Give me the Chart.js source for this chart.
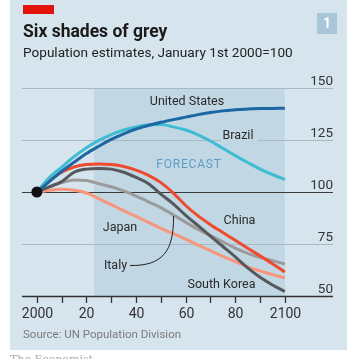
<!DOCTYPE html>
<html>
<head>
<meta charset="utf-8">
<script src="https://cdn.jsdelivr.net/npm/chart.js@4.4.1/dist/chart.umd.min.js"></script>
<style>
  body { margin: 0; background: #fff; }
  canvas { display: block; }
</style>
</head>
<body>
<canvas id="popChart" width="352" height="359"></canvas>
<script>
var years = [2000, 2005, 2010, 2015, 2020, 2025, 2030, 2035, 2040, 2045, 2050,
             2055, 2060, 2065, 2070, 2075, 2080, 2085, 2090, 2095, 2100];
var unitedStates = [100, 105, 110, 114.3, 118.5, 122, 125.3, 128, 130.3, 132, 133.5,
                    134.8, 136, 137.2, 138.2, 139, 139.5, 139.9, 140.1, 140.2, 140.3];
var brazil = [100, 107, 112, 117, 121.3, 124.8, 127.6, 129.8, 131.3, 132.3, 132.4,
              131.3, 129.8, 127.5, 124.5, 121, 117.5, 114.2, 111, 108.3, 106];
var china = [100, 105.5, 109.5, 112, 113.2, 113.5, 113.2, 112.3, 110.5, 108, 104.5,
             99.5, 93.5, 88.5, 84.3, 80.5, 76.8, 73, 69.3, 65.5, 61.5];
var southKorea = [100, 102.5, 105, 109.5, 111, 111.3, 111, 109.5, 107, 104, 99,
                  94.3, 88.8, 83.8, 78.8, 73.8, 68.8, 63.5, 59, 55.3, 52.2];
var italy = [100, 102.5, 104.5, 105.8, 105.5, 104, 102.5, 100.5, 98, 95.3, 92.5,
             89, 85.5, 82, 79, 76, 73, 70.5, 68.5, 67, 65.4];
var japan = [100, 100.8, 101.3, 100.8, 99.5, 96.8, 93.9, 91, 88.3, 85.4, 82.5,
             80, 77.3, 74.5, 71.8, 69, 66.5, 64, 62, 60.3, 58.7];

var yTicks = [50, 75, 100, 125, 150];
var xTicks = [2000, 2010, 2020, 2030, 2040, 2050, 2060, 2070, 2080, 2090, 2100];
var xTickLabels = {2000: "2000", 2020: "20", 2040: "40", 2060: "60", 2080: "80", 2100: "2100"};
var forecastStart = 2023;
var forecastEnd = 2100;

var FONT = "Roboto, 'Noto Sans', sans-serif";

function toPoints(vals) {
    return vals.map(function(v, i) { return {x: years[i], y: v}; });
}

function lineSet(label, vals, color) {
    return {
        label: label,
        data: toPoints(vals),
        borderColor: color,
        borderWidth: 3,
        pointRadius: 0,
        cubicInterpolationMode: 'monotone',
        fill: false
    };
}

var chrome = {
    id: 'chrome',
    beforeDraw: function(chart) {
        var c = chart.ctx;
        var x = chart.scales.x, y = chart.scales.y;
        var area = chart.chartArea;
        c.save();
        c.fillStyle = "#ffffff";
        c.fillRect(0, 0, chart.width, chart.height);
        // panel
        c.fillStyle = "#d6e4ed";
        c.fillRect(10, 0, 337, 350);
        // red tag
        c.fillStyle = "#e3120b";
        c.fillRect(23, 5, 31, 9);
        // chart number box
        c.fillStyle = "#a9c5d8";
        c.fillRect(317, 13, 20, 21);
        c.fillStyle = "#ffffff";
        c.font = "bold 14px " + FONT;
        c.textAlign = "center";
        c.textBaseline = "middle";
        c.fillText("1", 327, 24);

        c.textAlign = "left";
        c.textBaseline = "alphabetic";
        c.fillStyle = "#1a1a1a";
        c.font = "bold 17.5px " + FONT;
        c.fillText("Six shades of grey", 23, 37);
        c.font = "13.6px " + FONT;
        c.fillStyle = "#222";
        c.fillText("Population estimates, January 1st 2000=100", 23, 57);

        // forecast shading
        var fx0 = x.getPixelForValue(forecastStart), fx1 = x.getPixelForValue(forecastEnd);
        c.fillStyle = "#c2d7e4";
        c.fillRect(fx0, area.top, fx1 - fx0, area.bottom - area.top);

        // gridlines
        yTicks.forEach(function(t) {
            var py = Math.round(y.getPixelForValue(t)) + 0.5;
            c.beginPath();
            c.moveTo(area.left, py);
            c.lineTo(area.right, py);
            if (t == 100) { c.strokeStyle = "#3a3a3a"; c.lineWidth = 1; }
            else if (t == 50) { c.strokeStyle = "#333"; c.lineWidth = 1.6; }
            else { c.strokeStyle = "#a9b9c3"; c.lineWidth = 1; }
            c.stroke();
            c.fillStyle = "#333";
            c.font = "13.5px " + FONT;
            c.textAlign = "right";
            c.fillText(String(t), area.right, py - 4);
        });

        // gap in the 125 line behind the Brazil label
        c.fillStyle = "#c2d7e4";
        c.fillRect(221, y.getPixelForValue(125) - 2, 37, 4);

        // x ticks
        c.strokeStyle = "#333";
        c.fillStyle = "#333";
        c.lineWidth = 1.3;
        c.textAlign = "center";
        c.font = "14px " + FONT;
        xTicks.forEach(function(t) {
            var px = Math.round(x.getPixelForValue(t)) + 0.5;
            c.beginPath();
            c.moveTo(px, area.bottom);
            c.lineTo(px, area.bottom + 7);
            c.stroke();
            if (xTickLabels[t]) {
                c.fillText(xTickLabels[t], px, 318);
            }
        });

        c.textAlign = "left";
        c.fillStyle = "#7b7b7b";
        c.font = "11.5px " + FONT;
        c.fillText("Source: UN Population Division", 23, 338);

        c.fillStyle = "#aaa";
        c.font = "11px 'DejaVu Serif', serif";
        c.fillText("The Economist", 10, 363);
        c.restore();
    },
    afterDatasetsDraw: function(chart) {
        var c = chart.ctx;
        c.save();
        c.fillStyle = "#2a2a2a";
        c.font = "12.5px " + FONT;
        c.textAlign = "center";
        c.textBaseline = "middle";
        c.fillText("United States", 187, 102);
        c.fillText("Brazil", 238, 135.5);
        c.fillText("China", 239.5, 220.5);
        c.fillText("Japan", 120, 228);
        c.fillText("Italy", 115.5, 265.5);
        c.fillText("South Korea", 221.5, 285);

        c.fillStyle = "#5c9dc4";
        c.font = "12px " + FONT;
        if (c.letterSpacing !== undefined) c.letterSpacing = "0.8px";
        c.fillText("FORECAST", 189, 165);
        c.letterSpacing = "0px";

        // leader for Italy
        c.strokeStyle = "#222";
        c.lineWidth = 1;
        c.beginPath();
        c.moveTo(130, 265.5);
        c.bezierCurveTo(162, 266, 174, 252, 173.5, 216);
        c.stroke();
        c.restore();
    }
};

var ctx = document.getElementById('popChart').getContext('2d');
var chart = new Chart(ctx, {
    type: 'line',
    data: {
        datasets: [
            {
                label: "Base",
                data: [{x: years[0], y: 100}],
                pointRadius: 5.5,
                pointBackgroundColor: "#111",
                pointBorderWidth: 0,
                showLine: false
            },
            lineSet("United States", unitedStates, "#1b67a3"),
            lineSet("Brazil", brazil, "#3ebcd2"),
            lineSet("China", china, "#ee4a2e"),
            lineSet("South Korea", southKorea, "#55595c"),
            lineSet("Italy", italy, "#9b9b9b"),
            lineSet("Japan", japan, "#f7967a")
        ]
    },
    options: {
        responsive: false,
        animation: false,
        layout: { padding: { left: 22, right: 19, top: 88, bottom: 63 } },
        plugins: { legend: { display: false }, tooltip: { enabled: false } },
        scales: {
            x: { type: 'linear', min: 1994, max: 2119.4, display: false },
            y: { min: 50, max: 150, display: false }
        }
    },
    plugins: [chrome]
});
</script>
</body>
</html>
